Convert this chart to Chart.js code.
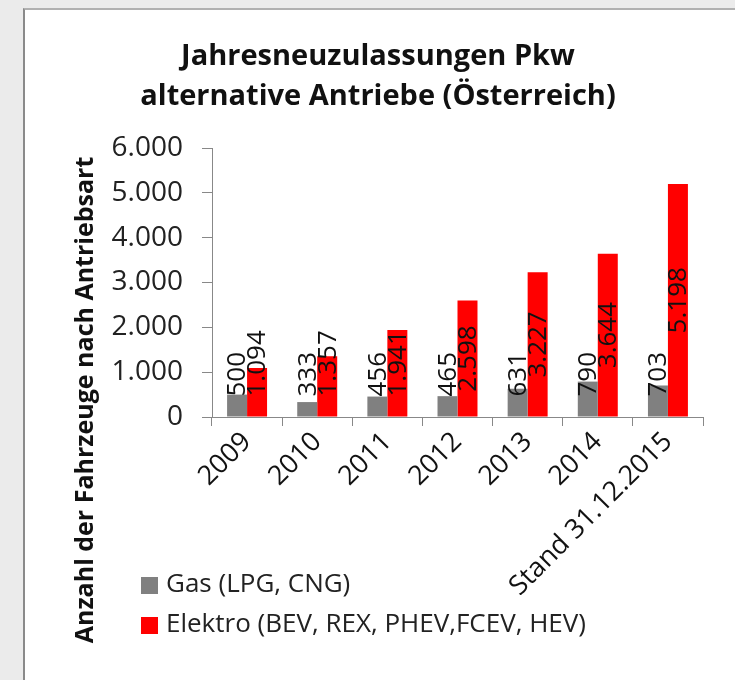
<!DOCTYPE html>
<html lang="de">
<head>
    <meta charset="UTF-8">
    <title>Jahresneuzulassungen Pkw alternative Antriebe</title>
    <script src="https://cdn.jsdelivr.net/npm/chart.js"></script>
    <style>
        body { margin: 0; background: #ebebeb; }
        #card { position: absolute; left: 23px; top: 8px; width: 720px; height: 680px; background: #fff;
                border-left: 2px solid #8a8a8a; border-top: 2px solid #b0b0b0; }
        #wrap { position: absolute; left: 0; top: 0; width: 735px; height: 680px; }
    </style>
</head>
<body>
    <div id="card"></div>
    <div id="wrap"><canvas id="chart"></canvas></div>

    <script>
        // data
        const years = ['2009', '2010', '2011', '2012', '2013', '2014', 'Stand 31.12.2015'];
        const gasValues = [500, 333, 456, 465, 631, 790, 703];
        const elektroValues = [1094, 1357, 1941, 2598, 3227, 3644, 5198];
        const seriesNames = ['Gas (LPG, CNG)', 'Elektro (BEV, REX, PHEV,FCEV, HEV)'];
        const seriesColors = ['#808080', '#ff0000'];
        const titleLines = ['Jahresneuzulassungen Pkw', 'alternative Antriebe (Österreich)'];
        const yAxisTitle = 'Anzahl der Fahrzeuge nach Antriebsart';
        const yMax = 6000;
        const yStep = 1000;

        const FONT = '"Open Sans", sans-serif';

        // 1094 -> "1.094"
        function fmt(v) {
            return String(v).replace(/\B(?=(\d{3})+(?!\d))/g, '.');
        }

        // vertical value labels, centred in the bar but kept off the baseline
        const valueLabels = {
            id: 'valueLabels',
            afterDatasetsDraw(chart) {
                const ctx = chart.ctx;
                ctx.save();
                ctx.font = '26px ' + FONT;
                ctx.fillStyle = '#111';
                ctx.textAlign = 'center';
                ctx.textBaseline = 'middle';
                chart.data.datasets.forEach((ds, i) => {
                    chart.getDatasetMeta(i).data.forEach((bar, j) => {
                        const txt = fmt(ds.data[j]);
                        const w = ctx.measureText(txt).width;
                        const cy = Math.min((bar.y + bar.base) / 2, bar.base - 20 - w / 2);
                        ctx.save();
                        ctx.translate(bar.x + 1, cy);
                        ctx.rotate(-Math.PI / 2);
                        ctx.fillText(txt, 0, 0);
                        ctx.restore();
                    });
                });
                ctx.restore();
            }
        };

        // y title and the legend in the lower left corner
        const extras = {
            id: 'extras',
            afterDraw(chart) {
                const ctx = chart.ctx;
                ctx.save();
                ctx.font = 'bold 25px ' + FONT;
                ctx.fillStyle = '#111';
                ctx.textAlign = 'center';
                ctx.textBaseline = 'middle';
                ctx.translate(86, 400);
                ctx.rotate(-Math.PI / 2);
                ctx.fillText(yAxisTitle, 0, 0);
                ctx.restore();

                ctx.save();
                ctx.font = '26px ' + FONT;
                ctx.textBaseline = 'middle';
                chart.data.datasets.forEach((ds, i) => {
                    const y = 585 + i * 40;
                    ctx.fillStyle = ds.backgroundColor;
                    ctx.fillRect(141, y - 8, 17, 17);
                    ctx.fillStyle = '#222';
                    ctx.fillText(ds.label, 166, y);
                });
                ctx.restore();
            }
        };

        new Chart(document.getElementById('chart'), {
            type: 'bar',
            data: {
                labels: years,
                datasets: [
                    { label: seriesNames[0], data: gasValues, backgroundColor: seriesColors[0] },
                    { label: seriesNames[1], data: elektroValues, backgroundColor: seriesColors[1] }
                ]
            },
            options: {
                responsive: true,
                maintainAspectRatio: false,
                animation: false,
                layout: { padding: { left: 53, right: 32, top: 0, bottom: 0 } },
                datasets: { bar: { categoryPercentage: 0.57, barPercentage: 1.0 } },
                plugins: {
                    legend: { display: false },
                    tooltip: { enabled: false },
                    title: {
                        display: true,
                        text: titleLines,
                        color: '#111',
                        font: { family: FONT, size: 29, weight: 'bold', lineHeight: 1.38 },
                        padding: { top: 37, bottom: 31 }
                    }
                },
                scales: {
                    x: {
                        grid: { drawOnChartArea: false, color: '#888', tickLength: 9 },
                        border: { color: '#888' },
                        ticks: {
                            color: '#111',
                            font: { family: FONT, size: 27 },
                            minRotation: 45,
                            maxRotation: 45,
                            autoSkip: false,
                            padding: 0
                        },
                        afterFit(scale) { scale.height = 263; }
                    },
                    y: {
                        min: 0,
                        max: yMax,
                        grid: { drawOnChartArea: false, color: '#888', tickLength: 10 },
                        border: { color: '#888' },
                        ticks: {
                            stepSize: yStep,
                            color: '#222',
                            font: { family: FONT, size: 28 },
                            padding: 19,
                            callback: v => fmt(v)
                        },
                        afterFit(scale) { scale.width = 159; }
                    }
                }
            },
            plugins: [valueLabels, extras]
        });
    </script>
</body>
</html>
